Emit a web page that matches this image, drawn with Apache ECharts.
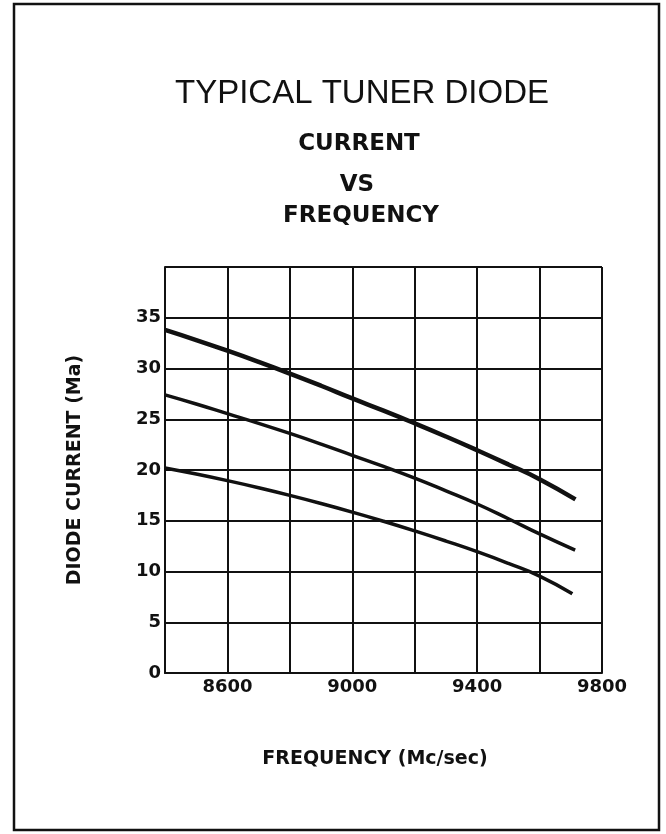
<!DOCTYPE html>
<html>
<head>
<meta charset="utf-8">
<script src="https://cdn.jsdelivr.net/npm/echarts@6/dist/echarts.min.js"></script>
<style>
html,body{margin:0;padding:0;background:#fff;}
#chart{width:666px;height:834px;}
</style>
</head>
<body>
<div id="chart"></div>
<script>
// Data
const titleLines = ['TYPICAL TUNER DIODE', 'CURRENT', 'VS', 'FREQUENCY'];
const xAxisName = 'FREQUENCY (Mc/sec)';
const yAxisName = 'DIODE CURRENT (Ma)';
const xTickLabels = [8600, 9000, 9400, 9800];
const yTickLabels = [0, 5, 10, 15, 20, 25, 30, 35];

const freqUpper  = [8400, 8500, 8600, 8700, 8800, 8900, 9000, 9100, 9200, 9300, 9400, 9500, 9600, 9715];
const upperCurve = [33.8, 32.8, 31.75, 30.65, 29.5, 28.3, 27.05, 25.85, 24.6, 23.3, 21.95, 20.55, 19.1, 17.1];

const freqMiddle  = [8400, 8500, 8600, 8700, 8800, 8900, 9000, 9100, 9200, 9300, 9400, 9500, 9600, 9714];
const middleCurve = [27.4, 26.5, 25.55, 24.6, 23.6, 22.55, 21.45, 20.35, 19.2, 17.95, 16.65, 15.2, 13.7, 12.1];

const freqLower  = [8400, 8500, 8600, 8700, 8800, 8900, 9000, 9100, 9200, 9300, 9400, 9500, 9600, 9705];
const lowerCurve = [20.2, 19.6, 18.95, 18.25, 17.5, 16.7, 15.85, 14.95, 14.0, 13.0, 11.95, 10.8, 9.55, 7.8];

const pairs = (xs, ys) => xs.map((x, i) => [x, ys[i]]);

const chart = echarts.init(document.getElementById('chart'), null, {renderer: 'canvas'});
const ink = '#111';
const boldFont = 'DejaVu Sans';

const option = {
  backgroundColor: '#fff',
  animation: false,
  title: [
    {text: titleLines[0], left: 357, top: 89, textAlign: 'center', textVerticalAlign: 'middle',
     textStyle: {fontFamily: 'Liberation Sans', fontWeight: 'normal', fontSize: 33, color: ink}},
    {text: titleLines[1], left: 354, top: 139, textAlign: 'center', textVerticalAlign: 'middle',
     textStyle: {fontFamily: boldFont, fontWeight: 'bold', fontSize: 23, color: ink}},
    {text: titleLines[2], left: 352, top: 180, textAlign: 'center', textVerticalAlign: 'middle',
     textStyle: {fontFamily: boldFont, fontWeight: 'bold', fontSize: 23, color: ink}},
    {text: titleLines[3], left: 356, top: 211, textAlign: 'center', textVerticalAlign: 'middle',
     textStyle: {fontFamily: boldFont, fontWeight: 'bold', fontSize: 23, color: ink}}
  ],
  graphic: [
    {type: 'rect', shape: {x: 14, y: 4, width: 645, height: 826},
     style: {fill: 'none', stroke: ink, lineWidth: 2.5}, silent: true, z: 100}
  ],
  grid: {left: 165, top: 267, width: 437, height: 406},
  xAxis: {
    type: 'value', min: 8400, max: 9800, interval: 200,
    name: xAxisName, nameLocation: 'middle', nameGap: 77,
    nameTextStyle: {fontFamily: boldFont, fontWeight: 'bold', fontSize: 19, color: ink, padding: [0, 17, 0, 0]},
    axisLine: {show: true, lineStyle: {color: ink, width: 2}},
    axisTick: {show: false},
    axisLabel: {customValues: xTickLabels, formatter: v => String(v), margin: 5,
                fontFamily: boldFont, fontWeight: 'bold', fontSize: 18, color: ink},
    splitLine: {show: true, lineStyle: {color: ink, width: 2}}
  },
  yAxis: {
    type: 'value', min: 0, max: 40, interval: 5,
    name: yAxisName, nameLocation: 'middle', nameGap: 80, nameRotate: 90,
    nameTextStyle: {fontFamily: boldFont, fontWeight: 'bold', fontSize: 19, color: ink},
    axisLine: {show: true, lineStyle: {color: ink, width: 2}},
    axisTick: {show: false},
    axisLabel: {customValues: yTickLabels, formatter: v => String(v), margin: 4,
                fontFamily: boldFont, fontWeight: 'bold', fontSize: 18, color: ink},
    splitLine: {show: true, lineStyle: {color: ink, width: 2}}
  },
  series: [
    {type: 'line', data: pairs(freqUpper, upperCurve), smooth: true, showSymbol: false,
     lineStyle: {color: ink, width: 4.5}, z: 5},
    {type: 'line', data: pairs(freqMiddle, middleCurve), smooth: true, showSymbol: false,
     lineStyle: {color: ink, width: 3.5}, z: 5},
    {type: 'line', data: pairs(freqLower, lowerCurve), smooth: true, showSymbol: false,
     lineStyle: {color: ink, width: 3.5}, z: 5}
  ]
};
chart.setOption(option);
</script>
</body>
</html>
